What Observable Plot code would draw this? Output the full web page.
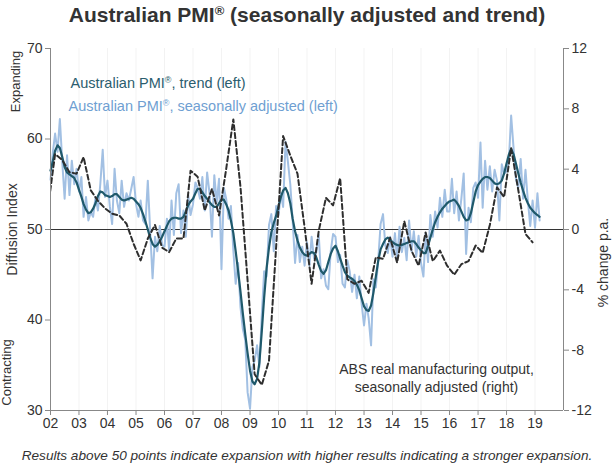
<!DOCTYPE html>
<html><head><meta charset="utf-8">
<script src="https://cdn.jsdelivr.net/npm/d3@7"></script>
<script src="https://cdn.jsdelivr.net/npm/@observablehq/plot@0.6"></script>
<style>
body{margin:0;background:#fff;font-family:"Liberation Sans",Arial,sans-serif;}
#title{height:32px;line-height:30px;text-align:center;font-weight:bold;font-size:21px;color:#333;white-space:nowrap;}
#title sup{font-size:13px;line-height:0;vertical-align:7px;}
#caption{margin-top:14px;text-align:center;font-style:italic;font-size:13.6px;line-height:15px;color:#333;white-space:nowrap;}
</style></head><body>
<div id="title">Australian PMI<sup>®</sup> (seasonally adjusted and trend)</div>
<div id="chart"></div>
<div id="caption">Results above 50 points indicate expansion with higher results indicating a stronger expansion.</div>
<script>
// Monthly PMI, Jan 2002 .. Mar 2019
const pmiStart = [2002, 0];
const pmiSeasonallyAdjusted = [
  55.5, 58.6, 60.6, 58.6, 62.2, 57.4, 53.4, 58.2, 53.8, 57.6, 55.0, 56.7,
  54.2, 55.8, 51.4, 53.6, 51.0, 51.9, 51.4, 53.6, 52.1, 55.0, 58.8, 53.6,
  55.4, 52.5, 50.6, 56.7, 53.2, 51.8, 55.4, 52.5, 54.0, 53.2, 54.5, 55.8,
  52.8, 51.4, 53.2, 51.0, 50.6, 55.4, 49.9, 44.6, 49.2, 47.6, 50.4, 48.3,
  48.1, 51.2, 47.7, 53.2, 49.4, 54.0, 55.0, 49.6, 52.1, 49.2, 53.8, 51.6,
  52.8, 55.2, 54.6, 53.4, 55.8, 52.1, 56.3, 54.0, 49.2, 56.0, 53.0, 55.6,
  45.6, 54.6, 53.4, 51.2, 52.6, 47.7, 44.0, 46.3, 41.4, 39.0, 37.8, 32.0,
  30.2, 34.8, 35.5, 37.2, 34.8, 40.6, 45.4, 44.8, 50.5, 51.7, 47.6, 52.6,
  51.6, 54.0, 52.5, 59.7, 57.5, 55.0, 51.0, 46.3, 49.4, 46.4, 48.1, 46.0,
  48.6, 46.0, 49.2, 46.8, 47.5, 49.4, 44.6, 45.6, 43.8, 43.4, 47.6, 49.5,
  49.2, 46.4, 47.2, 44.0, 43.6, 46.6, 45.4, 43.1, 45.0, 42.4, 44.8, 41.8,
  39.4, 41.8, 40.2, 37.2, 44.5, 43.6, 46.5, 50.6, 51.7, 48.2, 47.4, 49.2,
  47.0, 49.6, 46.6, 50.3, 47.5, 49.1, 46.6, 51.0, 47.6, 49.8, 47.0, 49.3,
  46.3, 44.8, 49.6, 46.4, 51.6, 49.2, 52.0, 50.2, 53.5, 51.4, 54.4, 52.0,
  52.0, 55.6, 51.8, 54.2, 51.0, 53.4, 56.2, 47.3, 52.4, 50.8, 54.6, 55.2,
  53.5, 59.6, 52.4, 57.6, 54.4, 57.0, 54.2, 56.6, 55.4, 51.0, 57.2, 56.2,
  56.4, 57.8, 62.6, 59.0, 55.6, 54.6, 57.8, 53.4, 56.6, 53.2, 50.4, 53.2,
  50.2, 54.0, 51.0
];
const pmiTrend = [
  56.5, 57.6, 58.7, 59.3, 59.0, 58.0, 56.9, 56.3, 56.1, 55.9, 55.7, 55.2,
  54.4, 53.6, 52.8, 52.2, 51.8, 51.9, 52.3, 52.9, 53.7, 54.2, 54.1, 53.8,
  53.7, 53.6, 53.7, 53.9, 53.9, 53.6, 53.3, 53.2, 53.3, 53.4, 53.5, 53.4,
  53.1, 52.8, 52.4, 51.7, 50.9, 50.0, 49.1, 48.4, 48.1, 48.3, 48.7, 49.2,
  49.8, 50.4, 50.9, 51.2, 51.3, 51.3, 51.2, 51.2, 51.4, 52.0, 52.7, 53.1,
  53.4, 54.0, 54.5, 54.5, 54.1, 53.7, 53.4, 53.0, 52.7, 52.5, 52.5, 52.9,
  53.3, 53.3, 52.8, 52.1, 51.0, 49.6, 47.6, 45.4, 43.1, 40.7, 38.4, 36.3,
  34.4, 33.2, 32.9, 33.5, 35.3, 38.8, 42.5, 45.7, 48.0, 49.7, 50.7, 51.5,
  52.6, 53.6, 54.3, 54.6, 54.0, 52.9, 51.2, 49.8, 48.8, 48.0, 47.5, 47.2,
  47.1, 47.3, 47.5, 47.4, 46.9, 46.1, 45.4, 45.1, 45.5, 46.4, 47.3, 47.9,
  48.2, 47.6, 46.8, 46.0, 45.3, 44.9, 44.7, 44.55, 44.3, 43.9, 43.3, 42.4,
  41.5, 41.1, 41.0, 41.6, 43.0, 44.8, 46.5, 47.8, 48.4, 48.9, 49.1, 48.9,
  48.6, 48.4, 48.3, 48.2, 48.3, 48.4, 48.5, 48.6, 48.7, 48.7, 48.4, 48.0,
  47.7, 47.4, 47.4, 48.2, 49.1, 50.0, 50.8, 51.4, 51.9, 52.3, 52.6, 52.9,
  53.1, 53.2, 53.3, 53.0, 52.6, 52.0, 51.4, 51.0, 51.1, 51.8, 53.0, 54.2,
  54.9, 55.3, 55.6, 55.8, 55.8, 55.7, 55.4, 55.1, 55.0, 55.1, 55.4, 56.2,
  57.3, 58.3, 58.9, 58.3, 57.3, 56.2, 55.2, 54.3, 53.5, 52.9, 52.4, 52.1,
  51.8, 51.6, 51.4
];
// Quarterly ABS real manufacturing output, % change p.a. (right axis), Dec 2001 .. Dec 2018
const absStart = [2001, 11];
const absOutput = [
  1.5,
  5.0, 4.6, 3.8, 3.7,
  4.8, 2.6, 1.9, 1.4,
  1.05, 0.93, 0.38, -0.95,
  -2.05, -0.6, 0.3, -1.2,
  -1.5, -0.6, -0.6, 3.9,
  3.5, 1.26, 2.7, 0.93,
  4.0, 7.3, 2.8, -3.4,
  -9.6, -10.3, -8.7, -1.2,
  6.2, 4.9, 3.7, 0.15,
  -3.6, -0.07, 2.1, 1.6,
  3.4, -3.3, -3.6, -3.4,
  -4.2, -1.84, -1.95, -0.55,
  -2.2, 0.55, -1.4, -2.4,
  -0.2, -2.1, -1.4, -2.4,
  -3.0, -2.3, -2.1, -1.06,
  -1.55, 0.3, 2.8, 2.15,
  5.4, 2.6, -0.3, -0.85
];
const leftTicks = [30, 40, 50, 60, 70];
const rightTicks = [-12, -8, -4, 0, 4, 8, 12];
const yearTicks = [2002, 2003, 2004, 2005, 2006, 2007, 2008, 2009, 2010, 2011, 2012, 2013, 2014, 2015, 2016, 2017, 2018, 2019];
const xDomainYears = [2002, 2020];
const leftDomain = [30, 70];
const rightDomain = [-12, 12];

// map right-axis values onto the left scale
const toLeft = r => leftDomain[0] + (r - rightDomain[0]) * (leftDomain[1] - leftDomain[0]) / (rightDomain[1] - rightDomain[0]);
const toRight = l => rightDomain[0] + (l - leftDomain[0]) * (rightDomain[1] - rightDomain[0]) / (leftDomain[1] - leftDomain[0]);

const pmiStartDate = new Date(Date.UTC(pmiStart[0], pmiStart[1], 1));
const monthly = pmiSeasonallyAdjusted.map((v, i) => ({
  date: d3.utcMonth.offset(pmiStartDate, i), sa: v, trend: pmiTrend[i]
}));
const absStartDate = new Date(Date.UTC(absStart[0], absStart[1], 1));
const abs = absOutput.map((v, i) => ({date: d3.utcMonth.offset(absStartDate, 3 * i), value: v}));
const yearDates = yearTicks.map(y => new Date(Date.UTC(y, 0, 1)));
const x0 = new Date(Date.UTC(xDomainYears[0], 0, 1));
const x1 = new Date(Date.UTC(xDomainYears[1], 0, 1));

const font = '"Liberation Sans", Arial, sans-serif';
const chart = Plot.plot({
  width: 614, height: 402,
  marginLeft: 50, marginRight: 51, marginTop: 16, marginBottom: 24,
  style: {fontFamily: font, fontSize: "14px", color: "#333", background: "#fff"},
  x: {type: "utc", domain: [x0, x1]},
  y: {domain: leftDomain},
  marks: [
    Plot.gridX(yearDates, {stroke: "#000", strokeOpacity: 0.05}),
    Plot.ruleY([50], {stroke: "#333", strokeWidth: 1}),
    Plot.line(monthly, {x: "date", y: "sa", stroke: "#a2c0e3", strokeWidth: 2}),
    Plot.line(monthly, {x: "date", y: "trend", stroke: "#1f596b", strokeWidth: 2.2}),
    Plot.line(abs, {x: "date", y: d => toLeft(d.value), stroke: "#2e2e2e", strokeWidth: 2, strokeDasharray: "5,3", clip: true}),
    Plot.ruleX([x0, x1], {stroke: "#888"}),
    Plot.ruleY([leftDomain[0]], {stroke: "#888"}),
    Plot.axisY(leftTicks, {anchor: "left", tickSize: 5, tickPadding: 3, label: null, stroke: "#888", fill: "#333", fontSize: 14}),
    Plot.axisY(rightTicks.map(toLeft), {anchor: "right", tickSize: 5, tickPadding: 3, label: null, stroke: "#888", fill: "#333", fontSize: 14,
      tickFormat: d => String(Math.round(toRight(d)))}),
    Plot.axisX(yearDates, {anchor: "bottom", tickSize: 5, tickPadding: 3, label: null, stroke: "#888", fill: "#333", fontSize: 14,
      tickFormat: d3.utcFormat("%y")}),
    Plot.text(["Australian PMI®, trend (left)"], {text: d => d, frameAnchor: "top-left", dx: 20, dy: 29, textAnchor: "start", fill: "#2b5d6e", fontSize: 14.5}),
    Plot.text(["Australian PMI®, seasonally adjusted (left)"], {text: d => d, frameAnchor: "top-left", dx: 18, dy: 52, textAnchor: "start", fill: "#6f9fd2", fontSize: 14.5}),
    Plot.text(["ABS real manufacturing output,"], {text: d => d, frameAnchor: "top-left", dx: 386, dy: 316, textAnchor: "middle", fill: "#333", fontSize: 14}),
    Plot.text(["seasonally adjusted (right)"], {text: d => d, frameAnchor: "top-left", dx: 386, dy: 334, textAnchor: "middle", fill: "#333", fontSize: 14}),
    Plot.text(["Diffusion Index"], {text: d => d, frameAnchor: "left", dx: -38, rotate: -90, textAnchor: "middle", fill: "#333", fontSize: 14}),
    Plot.text(["Expanding"], {text: d => d, frameAnchor: "top-left", dx: -40, dy: 33, rotate: -90, textAnchor: "middle", fill: "#333", fontSize: 13}),
    Plot.text(["Contracting"], {text: d => d, frameAnchor: "bottom-left", dx: -40, dy: -38, rotate: -90, textAnchor: "middle", fill: "#333", fontSize: 13}),
    Plot.text(["% change p.a."], {text: d => d, frameAnchor: "right", dx: 40, dy: 33, rotate: -90, textAnchor: "middle", fill: "#333", fontSize: 14})
  ]
});
// render the registered mark as a small superscript, as in the reference legend
chart.querySelectorAll("text").forEach(t => {
  if (t.children.length === 0 && t.textContent.includes("®")) {
    const [before, after] = t.textContent.split("®");
    t.textContent = "";
    t.appendChild(document.createTextNode(before));
    const sup = document.createElementNS("http://www.w3.org/2000/svg", "tspan");
    sup.setAttribute("font-size", "0.62em");
    sup.setAttribute("baseline-shift", "super");
    sup.textContent = "®";
    t.appendChild(sup);
    t.appendChild(document.createTextNode(after));
  }
});
document.getElementById("chart").appendChild(chart);
</script></body></html>
